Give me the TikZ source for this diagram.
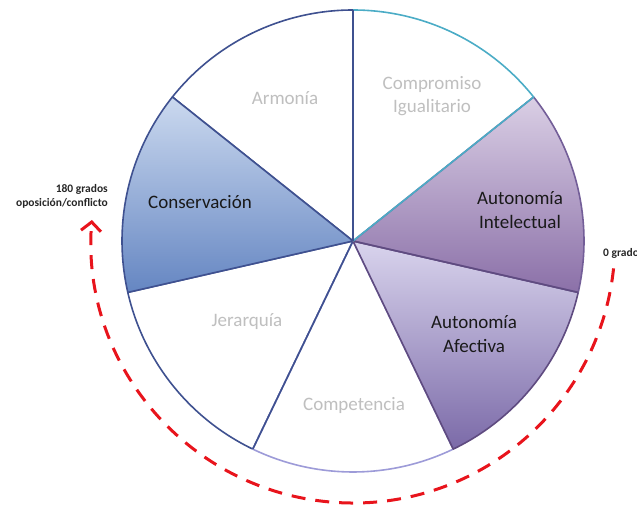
\documentclass[tikz,border=0pt]{standalone}
\usepackage{fontspec}
\setmainfont{Carlito}
\usetikzlibrary{arrows.meta}
\definecolor{dkblue}{HTML}{3F5190}
\definecolor{teal1}{HTML}{4BACC6}
\definecolor{dkpurp}{HTML}{5F4B80}
\definecolor{purp2}{HTML}{735E98}
\definecolor{lavline}{HTML}{9D9BD8}
\definecolor{graytxt}{HTML}{BFBFBF}
\definecolor{redd}{HTML}{E8141C}
\definecolor{bluetop}{HTML}{CBD9EF}
\definecolor{bluebot}{HTML}{6586C2}
\definecolor{ptop}{HTML}{DACFE5}
\definecolor{pbot}{HTML}{8B70A8}
\definecolor{atop}{HTML}{D9D4ED}
\definecolor{abot}{HTML}{7B6AA8}
\tikzset{
  sect/.style={line width=1.6pt, line join=round},
  lbl/.style={font=\fontsize{19}{23.5}\selectfont, align=center, inner sep=0pt},
  glbl/.style={lbl, text=graytxt},
  blbl/.style={lbl, text=black!90},
  small/.style={font=\fontsize{11.5}{14}\selectfont\bfseries, inner sep=0pt, text=black!85},
}
\begin{document}
\begin{tikzpicture}[x=1pt,y=1pt]
\useasboundingbox (0,0) rectangle (637,508);
\coordinate (c) at (353,267);
\def\R{231}
% white sectors
\draw[sect, dkblue, fill=white] (c) -- ++(-167.14:\R) arc[start angle=-167.14, end angle=-115.71, radius=\R] -- cycle;
\draw[sect, lavline, fill=white] (c) -- ++(-115.71:\R) arc[start angle=-115.71, end angle=-64.29, radius=\R] -- cycle;
\draw[sect, dkblue] (c) -- ++(-115.71:\R);
\draw[sect, dkblue, fill=white] (c) -- ++(90:\R) arc[start angle=90, end angle=141.43, radius=\R] -- cycle;
% colored sectors
\draw[sect, dkblue, top color=bluetop, bottom color=bluebot] (c) -- ++(141.43:\R) arc[start angle=141.43, end angle=192.86, radius=\R] -- cycle;
\draw[sect, dkpurp, top color=atop, bottom color=abot] (c) -- ++(-64.29:\R) arc[start angle=-64.29, end angle=-12.86, radius=\R] -- cycle;
\draw[sect, purp2, top color=ptop, bottom color=pbot] (c) -- ++(-12.86:\R) arc[start angle=-12.86, end angle=38.57, radius=\R] -- cycle;
\draw[sect, dkpurp] (c) -- ++(-12.86:\R);
\draw[sect, teal1] (c) -- ++(38.57:\R) arc[start angle=38.57, end angle=90, radius=\R];
\draw[sect, dkblue] (c) -- ++(90:\R);
% labels
\node[glbl] (arm) at (285,410) {Armonía};
\node[glbl] (comp) at (432,412) {Compromiso\\Igualitario};
\node[blbl] (cons) at (200,306) {Conservación};
\node[blbl] (ai) at (520,298) {Autonomía\\Intelectual};
\node[glbl] (jer) at (247,186) {Jerarquía};
\node[blbl] (aa) at (474,174) {Autonomía\\Afectiva};
\node[glbl] (cmp) at (354,103) {Competencia};
% dashed arc
\draw[redd, line width=3pt, dash pattern=on 14pt off 10pt, -{Straight Barb[length=9pt,width=20pt,line width=3pt]}]
  (c) ++(-6:262) arc[start angle=-6, end angle=-184.6, radius=262];
\node[small, anchor=east, align=right] (g180) at (108,312) {180 grados\\oposición/conflicto};
\node[small, anchor=west] (g0) at (603,255) {0 grados};
\end{tikzpicture}
\end{document}
